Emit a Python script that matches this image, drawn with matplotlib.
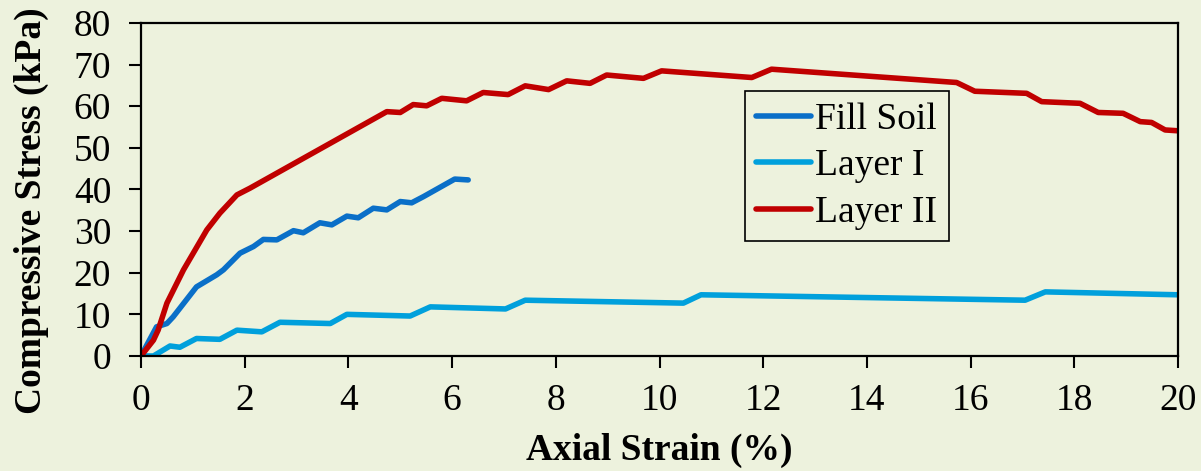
import numpy as np
import matplotlib.pyplot as plt

# Дані
fill_x = [0, 0.30, 0.50, 0.62, 1.07, 1.46, 1.59, 1.91, 2.17, 2.36, 2.62, 2.94, 3.13,
          3.45, 3.68, 3.97, 4.19, 4.48, 4.74, 5.0, 5.22, 5.45, 6.05, 6.31]
fill_y = [0, 7.0, 7.8, 9.4, 16.6, 19.5, 20.7, 24.7, 26.3, 28.0, 27.9, 30.1, 29.6,
          32.0, 31.5, 33.6, 33.2, 35.5, 35.1, 37.1, 36.8, 38.3, 42.5, 42.3]

layer1_x = [0, 0.24, 0.56, 0.75, 1.07, 1.52, 1.85, 2.33, 2.68, 3.65, 3.97, 5.19,
            5.58, 7.03, 7.41, 10.46, 10.80, 17.05, 17.44, 20.0]
layer1_y = [0, 0, 2.4, 2.1, 4.2, 4.0, 6.2, 5.8, 8.1, 7.8, 10.0, 9.6,
            11.8, 11.3, 13.4, 12.7, 14.7, 13.4, 15.4, 14.7]

layer2_x = [0, 0.24, 0.33, 0.5, 0.82, 1.27, 1.52, 1.85, 2.1, 4.74, 5.0, 5.25, 5.51,
            5.80, 6.28, 6.60, 7.08, 7.41, 7.86, 8.21, 8.66, 8.98, 9.69, 10.04,
            11.78, 12.16, 15.73, 16.08, 17.08, 17.37, 18.11, 18.46, 18.94, 19.27,
            19.49, 19.75, 20.0]
layer2_y = [0, 3.8, 6.2, 12.7, 20.7, 30.3, 34.3, 38.7, 40.3, 58.7, 58.5, 60.4, 60.1,
            61.9, 61.3, 63.3, 62.8, 64.9, 64.0, 66.1, 65.5, 67.5, 66.7, 68.5,
            66.9, 68.9, 65.7, 63.6, 63.1, 61.1, 60.7, 58.5, 58.3, 56.3,
            56.1, 54.3, 54.1]

bg = '#EDF2DD'
plt.rcParams['font.family'] = ['Liberation Serif', 'DejaVu Serif']
fs = 27

fig = plt.figure(figsize=(12.01, 4.71), dpi=100, facecolor=bg)
ax = fig.add_axes([0.1174, 0.2442, 0.8635, 0.7070])
ax.set_facecolor(bg)

lw = 4
ax.plot(fill_x, fill_y, color='#0A6FC8', linewidth=lw, label='Fill Soil',
        solid_joinstyle='round', solid_capstyle='round')
ax.plot(layer1_x, layer1_y, color='#00A0DC', linewidth=lw, label='Layer I',
        solid_joinstyle='round', solid_capstyle='round')
ax.plot(layer2_x, layer2_y, color='#C00000', linewidth=lw, label='Layer II',
        solid_joinstyle='round', solid_capstyle='round')

ax.set_xlim(0, 20)
ax.set_ylim(0, 80)
ax.set_xticks(np.arange(0, 21, 2))
ax.set_yticks(np.arange(0, 81, 10))
ax.tick_params(direction='out', length=8.5, width=1.5, labelsize=fs)
ax.tick_params(axis='x', pad=11)
ax.tick_params(axis='y', pad=13)
for s in ax.spines.values():
    s.set_linewidth(1.6)
    s.set_color('black')

ax.set_xlabel('Axial Strain (%)', fontsize=fs, fontweight='bold', labelpad=11)
ax.set_ylabel('Compressive Stress (kPa)', fontsize=fs, fontweight='bold')
ax.yaxis.set_label_coords(-0.089, 0.435)

leg = ax.legend(loc='upper left', bbox_to_anchor=(0.5825, 0.796), borderaxespad=0,
                fontsize=fs, frameon=True, fancybox=False, edgecolor='black',
                facecolor=bg, framealpha=1, handlelength=1.45, handletextpad=0.12,
                labelspacing=0.32, borderpad=0.3)
leg.get_frame().set_linewidth(1.2)

fig.savefig('out.png', dpi=100, facecolor=bg)
